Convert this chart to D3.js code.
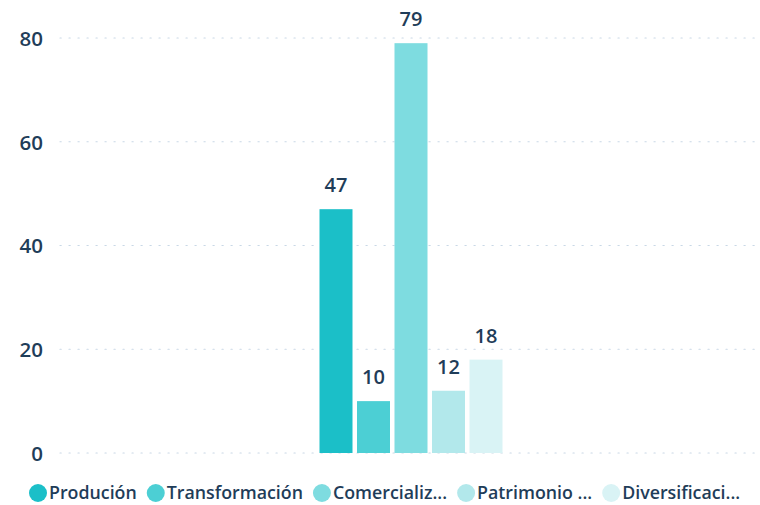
<!DOCTYPE html>
<html>
<head>
<meta charset="utf-8">
<script src="https://cdn.jsdelivr.net/npm/d3@7"></script>
<style>
  html, body { margin: 0; padding: 0; background: #ffffff; }
  svg { display: block; }
  text { font-family: "Open Sans", "Noto Sans", sans-serif; font-weight: 600; fill: #1f3d59; }
</style>
</head>
<body>
<svg id="chart" width="760" height="505"></svg>
<script>
const categories = ["Total"];
const seriesNames = ["Produción", "Transformación", "Comercialización", "Patrimonio", "Diversificación"];
const legendLabels = ["Produción", "Transformación", "Comercializ...", "Patrimonio ...", "Diversificaci..."];
const seriesValues = [47, 10, 79, 12, 18];
const seriesColors = ["#1bbfc8", "#4ccfd4", "#7edce0", "#b2e8eb", "#d9f3f5"];
const yTicks = [0, 20, 40, 60, 80];

const svg = d3.select("#chart");
const plot = { left: 60, right: 762, top: 38, bottom: 453 };

const y = d3.scaleLinear().domain([0, 80]).range([plot.bottom, plot.top]);
const x0 = d3.scaleBand().domain(categories).range([plot.left, plot.right]).paddingInner(0).paddingOuter(1.372);
const x1 = d3.scaleBand().domain(seriesNames).range([0, x0.bandwidth()]).paddingInner(0.12).paddingOuter(0.06);
const color = d3.scaleOrdinal().domain(seriesNames).range(seriesColors);

// gridlines (dotted)
const grid = svg.append("g").attr("class", "grid");
grid.selectAll("line").data(yTicks).join("line")
  .attr("x1", plot.left).attr("x2", plot.right - 4)
  .attr("y1", d => y(d)).attr("y2", d => y(d))
  .attr("stroke", "#c9d8e6").attr("stroke-width", 1.2)
  .attr("stroke-dasharray", "1.2 7.8").attr("stroke-linecap", "round");

// y axis labels
const yAxis = d3.axisLeft(y).tickValues(yTicks).tickSize(0).tickPadding(0).tickFormat(d3.format("d"));
const yg = svg.append("g").attr("transform", `translate(43,0)`).call(yAxis);
yg.select(".domain").remove();
yg.selectAll("text").style("font-size", "20.5px").attr("dy", "0.36em").attr("fill", "#1f3d59");

// bars
const data = seriesNames.map((s, i) => ({ cat: categories[0], series: s, value: seriesValues[i] }));
const g = svg.append("g");
g.selectAll("rect").data(data).join("rect")
  .attr("x", d => x0(d.cat) + x1(d.series))
  .attr("width", x1.bandwidth())
  .attr("y", d => y(d.value))
  .attr("height", d => y(0) - y(d.value))
  .attr("fill", d => color(d.series));

// value labels
g.selectAll("text.val").data(data).join("text").attr("class", "val")
  .attr("x", d => x0(d.cat) + x1(d.series) + x1.bandwidth() / 2)
  .attr("y", d => y(d.value) - 17)
  .attr("text-anchor", "middle")
  .style("font-size", "20px")
  .text(d => d.value);

// legend
const leg = svg.append("g").attr("transform", "translate(0,493)");
let cx = 38;
legendLabels.forEach((lab, i) => {
  const item = leg.append("g");
  item.append("circle").attr("cx", cx).attr("cy", 0).attr("r", 9).attr("fill", seriesColors[i]);
  const t = item.append("text").attr("x", cx + 11).attr("y", 0).attr("dy", "0.35em")
    .style("font-size", "17.8px").text(lab);
  const w = t.node().getComputedTextLength();
  cx = cx + 11 + w + 19;
});
</script>
</body>
</html>
